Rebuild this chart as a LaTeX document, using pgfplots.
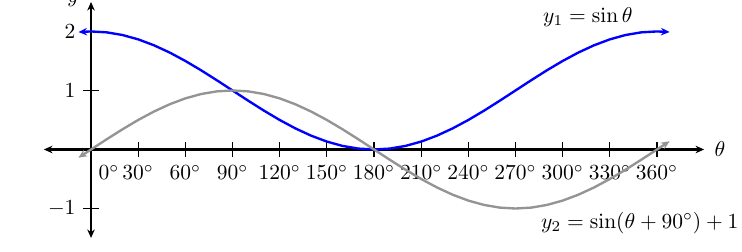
\documentclass[border=0pt]{standalone}
\usepackage{pgfplots}
\pgfplotsset{compat=1.18}
\usetikzlibrary{arrows.meta}
\begin{document}
\begin{tikzpicture}
\useasboundingbox (0,0) rectangle (345.1pt,-117.2pt);
\begin{axis}[
 at={(20.4pt,-110.7pt)}, anchor=south west,
 scale only axis, width=307.1pt, height=109.8pt,
 axis lines=middle,
 xmin=-30, xmax=390, ymin=-1.5, ymax=2.5,
 enlargelimits=false,
 axis line style={line width=1.2pt, {Stealth[length=4pt,width=3.5pt]}-{Stealth[length=4pt,width=3.5pt]}},
 xtick={30,60,...,360}, ytick={-1,1,2},
 extra x ticks={0}, extra x tick style={xticklabel style={anchor=north west}},
 hide obscured x ticks=false,
 xticklabel={$\pgfmathprintnumber{\tick}^\circ$},
 tick align=center, major tick length=7.4pt,
 tick style={black, line width=0.5pt},
 clip=false,
]
\addplot[blue, line width=1.1pt, {Stealth[length=4pt,width=3.5pt]}-{Stealth[length=4pt,width=3.5pt]}, mark=none] coordinates {
(-8,1.9903) (0,2) (10,1.9848) (20,1.9397) (30,1.8660) (40,1.7660) (50,1.6428) (60,1.5) (70,1.3420) (80,1.1736) (90,1)
(100,0.8264) (110,0.6580) (120,0.5) (130,0.3572) (140,0.2340) (150,0.1340) (160,0.0603) (170,0.0152) (180,0)
(190,0.0152) (200,0.0603) (210,0.1340) (220,0.2340) (230,0.3572) (240,0.5) (250,0.6580) (260,0.8264) (270,1)
(280,1.1736) (290,1.3420) (300,1.5) (310,1.6428) (320,1.7660) (330,1.8660) (340,1.9397) (350,1.9848) (360,2) (368,1.9903)
};
\addplot[black!42, line width=1.1pt, {Stealth[length=4pt,width=3.5pt]}-{Stealth[length=4pt,width=3.5pt]}, mark=none] coordinates {
(-8,-0.1392) (0,0) (10,0.1736) (20,0.3420) (30,0.5) (40,0.6428) (50,0.7660) (60,0.8660) (70,0.9397) (80,0.9848) (90,1)
(100,0.9848) (110,0.9397) (120,0.8660) (130,0.7660) (140,0.6428) (150,0.5) (160,0.3420) (170,0.1736) (180,0)
(190,-0.1736) (200,-0.3420) (210,-0.5) (220,-0.6428) (230,-0.7660) (240,-0.8660) (250,-0.9397) (260,-0.9848) (270,-1)
(280,-0.9848) (290,-0.9397) (300,-0.8660) (310,-0.7660) (320,-0.6428) (330,-0.5) (340,-0.3420) (350,-0.1736) (360,0) (368,0.1392)
};
\node at (axis cs:316,2.25) {$y_1=\sin\theta$};
\node at (axis cs:349,-1.25) {$y_2=\sin(\theta+90^\circ)+1$};
\node at (axis cs:400,0) {$\theta$};
\node at (axis cs:-11.5,2.534) {$y$};
\end{axis}
\end{tikzpicture}
\end{document}
